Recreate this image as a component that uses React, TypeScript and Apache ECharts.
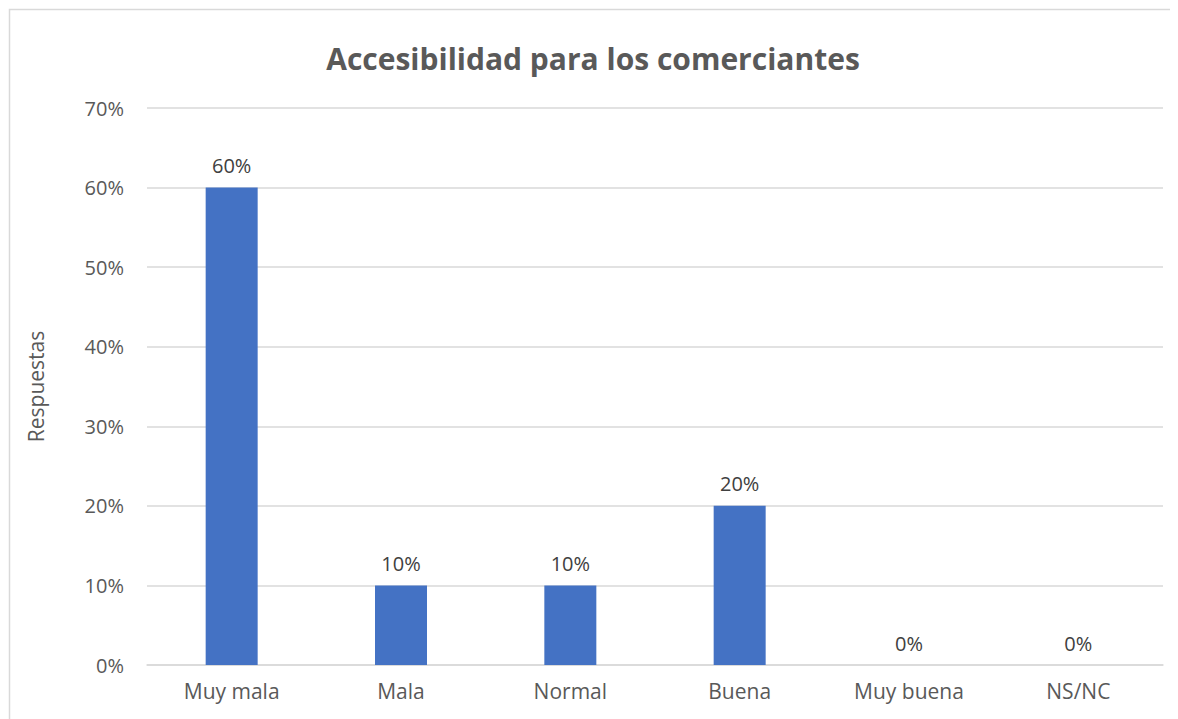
import React, { useEffect, useRef } from "react";
import * as echarts from "echarts";

const categories = ["Muy mala", "Mala", "Normal", "Buena", "Muy buena", "NS/NC"];
const values = [60, 10, 10, 20, 0, 0];
const title = "Accesibilidad para los comerciantes";
const yAxisName = "Respuestas";

export default function App() {
  const ref = useRef<HTMLDivElement>(null);
  useEffect(() => {
    if (!ref.current) return;
    const chart = echarts.init(ref.current, undefined, { renderer: "svg" });
    const font = "Open Sans";
    chart.setOption({
      animation: false,
      backgroundColor: "#ffffff",
      textStyle: { fontFamily: font },
      title: {
        text: title,
        left: "center",
        top: 30,
        textStyle: { fontFamily: font, fontSize: 30, fontWeight: "bold", color: "#595959" },
      },
      graphic: [
        {
          type: "rect",
          shape: { x: 1.5, y: 1.5, width: 1300, height: 900 },
          style: { fill: "none", stroke: "#d9d9d9", lineWidth: 1.5 },
          silent: true,
        },
      ],
      grid: { left: 139, right: 15, top: 100, bottom: 54, containLabel: false },
      xAxis: {
        type: "category",
        data: categories,
        axisLine: { lineStyle: { color: "#d9d9d9", width: 1.5 } },
        axisTick: { show: false },
        axisLabel: { color: "#595959", fontSize: 21, margin: 15, fontFamily: font },
      },
      yAxis: {
        type: "value",
        min: 0,
        max: 70,
        interval: 10,
        name: yAxisName,
        nameLocation: "middle",
        nameGap: 101,
        nameTextStyle: { color: "#595959", fontSize: 21, fontFamily: font },
        axisLine: { show: false },
        axisTick: { show: false },
        axisLabel: { color: "#595959", fontSize: 20, margin: 23, formatter: "{value}%", fontFamily: font },
        splitLine: { lineStyle: { color: "#d9d9d9", width: 1.5 } },
      },
      series: [
        {
          type: "bar",
          data: values,
          barWidth: 52,
          itemStyle: { color: "#4472C4" },
          label: {
            show: true,
            position: "top",
            distance: 12,
            formatter: "{c}%",
            color: "#404040",
            fontSize: 20,
            fontFamily: font,
          },
        },
      ],
    });
    return () => chart.dispose();
  }, []);
  return <div ref={ref} style={{ width: 1170, height: 711 }} />;
}
